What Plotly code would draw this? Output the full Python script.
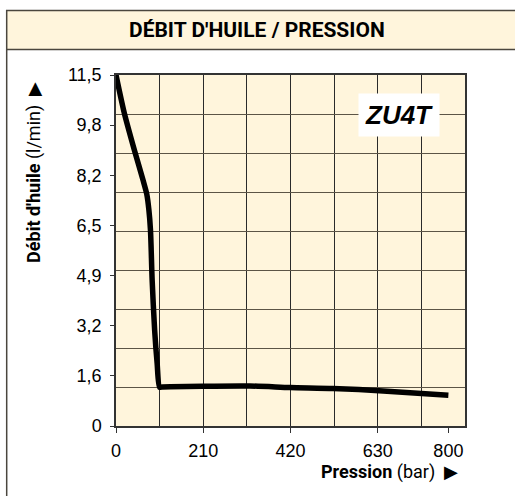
import plotly.graph_objects as go

# Data
pression = [0, 20, 45, 65, 74, 79, 83, 87, 93, 99, 105, 112, 322, 419, 522, 643, 800]
debit = [11.5, 10.25, 9.0, 8.06, 7.6, 7.1, 6.42, 4.78, 3.14, 2.06, 1.27, 1.28, 1.31, 1.26, 1.23, 1.15, 1.01]

x_tickvals = [0, 210, 420, 630, 800]
x_ticktext = ["0", "210", "420", "630", "800"]
y_tickvals = [0, 11.5 / 7, 2 * 11.5 / 7, 3 * 11.5 / 7, 4 * 11.5 / 7, 5 * 11.5 / 7, 6 * 11.5 / 7, 11.5]
y_ticktext = ["0", "1,6", "3,2", "4,9", "6,5", "8,2", "9,8", "11,5"]

title_text = "DÉBIT D'HUILE / PRESSION"
model_label = "ZU4T"

NARROW = "Roboto, Liberation Sans, Arial, sans-serif"
SANS = "Liberation Sans, Arial, Helvetica, sans-serif"
CREAM = "#FFF5DC"
FRAME = "#4a463e"

fig = go.Figure()
fig.add_trace(go.Scatter(
    x=pression, y=debit, mode="lines",
    line=dict(color="black", width=5.5, shape="spline", smoothing=0.7),
    hoverinfo="skip", showlegend=False,
))

fig.update_layout(
    width=515, height=496,
    margin=dict(l=116, r=50, t=75, b=70),
    paper_bgcolor="white",
    plot_bgcolor=CREAM,
    font=dict(family=SANS, size=18, color="black"),
    xaxis=dict(
        range=[0, 840], tickmode="array", tickvals=x_tickvals, ticktext=x_ticktext,
        showgrid=False, zeroline=False,
        showline=True, linecolor="#333", linewidth=1.5, mirror=True,
        ticks="outside", ticklen=5, tickcolor="#333", ticklabelstandoff=3,
        minor=dict(tickmode="linear", tick0=0, dtick=105, showgrid=True,
                   gridcolor="#2a2a2a", gridwidth=1, ticks=""),
        fixedrange=True,
    ),
    yaxis=dict(
        range=[0, 11.5], tickmode="array", tickvals=y_tickvals, ticktext=y_ticktext,
        showgrid=False, zeroline=False,
        showline=True, linecolor="#333", linewidth=1.5, mirror=True,
        ticks="outside", ticklen=4, tickcolor="#333", ticklabelstandoff=5,
        minor=dict(tickmode="linear", tick0=0, dtick=11.5 / 9, showgrid=True,
                   gridcolor="#5c5446", gridwidth=1, ticks=""),
        fixedrange=True,
    ),
    shapes=[
        # title bar
        dict(type="rect", xref="paper", yref="paper", x0=-0.3132, x1=1.2, y0=1.0727, y1=1.184,
             fillcolor=CREAM, line=dict(color=FRAME, width=1.5), layer="below"),
        # outer frame left side
        dict(type="line", xref="paper", yref="paper", x0=-0.3132, x1=-0.3132, y0=-0.25, y1=1.0727,
             line=dict(color=FRAME, width=1.5)),
    ],
    annotations=[
        dict(text="<b>" + title_text + "</b>", xref="paper", yref="paper",
             x=0.405, y=1.128, xanchor="center", yanchor="middle", showarrow=False,
             font=dict(family=NARROW, size=21, color="black")),
        dict(text="<b>Débit d'huile</b> (l/min)  ▶", xref="paper", yref="paper",
             x=-0.233, y=0.723, xanchor="center", yanchor="middle", showarrow=False,
             textangle=-90, font=dict(family=NARROW, size=18, color="black")),
        dict(text="<b>Pression</b> (bar)  ▶", xref="paper", yref="paper",
             x=0.783, y=-0.132, xanchor="center", yanchor="middle", showarrow=False,
             font=dict(family=NARROW, size=18, color="black")),
        dict(text="<b><i>" + model_label + "</i></b>", xref="paper", yref="paper",
             x=0.81, y=0.886, xanchor="center", yanchor="middle", showarrow=False,
             bgcolor="white", borderpad=6,
             font=dict(family=SANS, size=26, color="black")),
    ],
)

fig.write_html("out.html", config={"displayModeBar": False},
               post_script="document.body.style.margin='0';document.body.style.padding='0';")
